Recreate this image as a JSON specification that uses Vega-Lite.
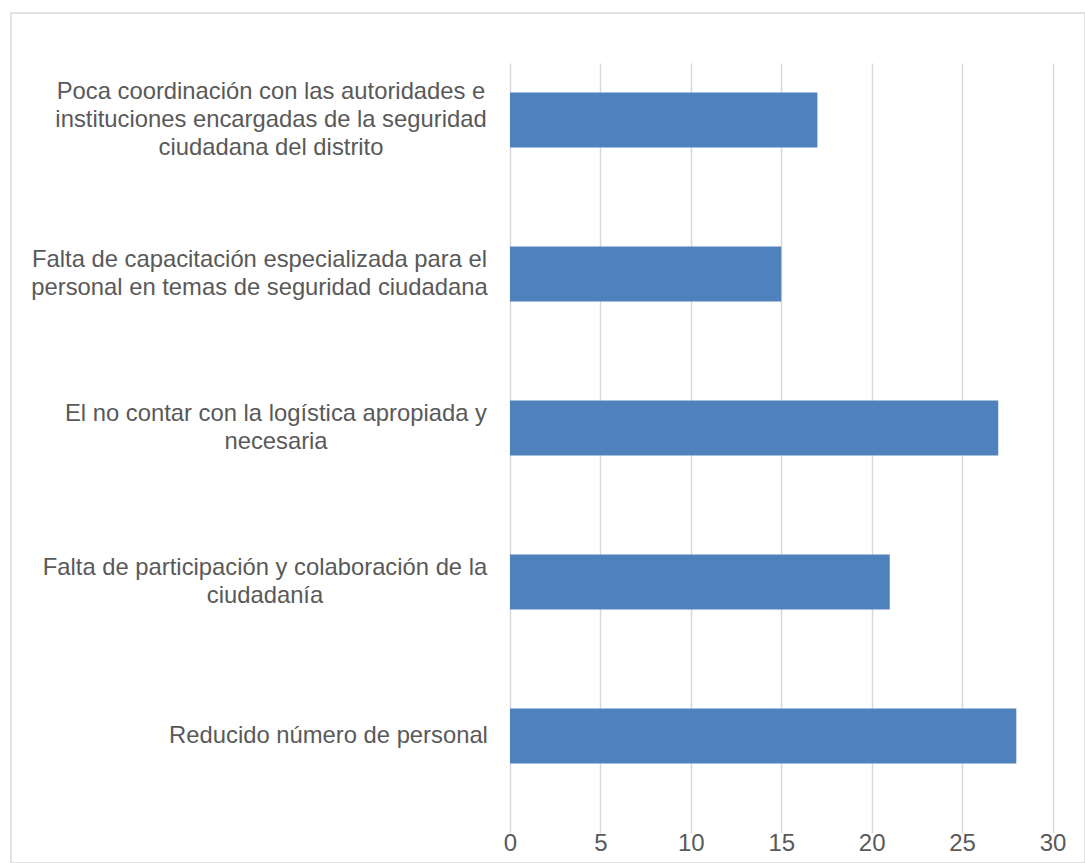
{
  "$schema": "https://vega.github.io/schema/vega-lite/v6.json",
  "width": 1074,
  "height": 850,
  "autosize": {"type": "none"},
  "padding": {"left": 11, "top": 13, "right": 0, "bottom": 0},
  "background": "white",
  "config": {
    "view": {"stroke": "#d9d9d9", "strokeWidth": 1.5},
    "font": "Liberation Sans",
    "axisY": {
      "title": null,
      "orient": "left",
      "offset": -499,
      "domain": false,
      "ticks": false,
      "grid": false,
      "labelAlign": "center",
      "labelBaseline": "middle",
      "labelLimit": 0,
      "labelFontSize": 23.8,
      "labelLineHeight": 27.7,
      "labelColor": "#595959",
      "labelFont": "Liberation Sans"
    }
  },
  "data": {
    "values": [
      {"causa": "Poca coordinación con las autoridades e\ninstituciones encargadas de la seguridad\nciudadana del distrito", "n": 17},
      {"causa": "Falta de capacitación especializada para el\npersonal en temas de seguridad ciudadana", "n": 15},
      {"causa": "El no contar con la logística apropiada y\nnecesaria", "n": 27},
      {"causa": "Falta de participación y colaboración de la\nciudadanía", "n": 21},
      {"causa": "Reducido número de personal", "n": 28}
    ]
  },
  "layer": [
    {
      "transform": [{"filter": "indexof(datum.causa, 'Poca') == 0"}],
      "mark": {"type": "bar", "color": "#4f81bd"},
      "encoding": {
        "y": {
          "field": "causa",
          "type": "nominal",
          "sort": null,
          "scale": {
            "domain": [
              "Poca coordinación con las autoridades e\ninstituciones encargadas de la seguridad\nciudadana del distrito",
              "Falta de capacitación especializada para el\npersonal en temas de seguridad ciudadana",
              "El no contar con la logística apropiada y\nnecesaria",
              "Falta de participación y colaboración de la\nciudadanía",
              "Reducido número de personal"
            ],
            "range": [30, 800],
            "paddingInner": 0.643,
            "paddingOuter": 0.322
          },
          "axis": {
            "orient": "left",
            "offset": -499,
            "labelPadding": 239.5,
            "labelOffset": -27.7,
            "labelExpr": "indexof(datum.value, 'Poca') == 0 ? split(datum.value, '\\n') : ''"
          }
        },
        "x": {
          "field": "n",
          "type": "quantitative",
          "scale": {"domain": [0, 30], "range": [499, 1041.5], "nice": false},
          "axis": {
            "title": null,
            "values": [0, 5, 10, 15, 20, 25, 30],
            "grid": true,
            "gridColor": "#d9d9d9",
            "gridWidth": 1.5,
            "domain": false,
            "ticks": false,
            "offset": -50,
            "labelPadding": 18,
            "labelFlush": false,
            "labelFontSize": 24,
            "labelColor": "#595959",
            "labelFont": "Liberation Sans"
          }
        }
      }
    },
    {
      "transform": [{"filter": "indexof(datum.causa, 'Falta de cap') == 0"}],
      "mark": {"type": "bar", "color": "#4f81bd"},
      "encoding": {
        "y": {
          "field": "causa",
          "type": "nominal",
          "sort": null,
          "axis": {
            "orient": "left",
            "offset": -499,
            "labelPadding": 251,
            "labelOffset": -13.85,
            "labelExpr": "indexof(datum.value, 'Falta de cap') == 0 ? split(datum.value, '\\n') : ''"
          }
        },
        "x": {"field": "n", "type": "quantitative", "axis": null}
      }
    },
    {
      "transform": [{"filter": "indexof(datum.causa, 'El no') == 0"}],
      "mark": {"type": "bar", "color": "#4f81bd"},
      "encoding": {
        "y": {
          "field": "causa",
          "type": "nominal",
          "sort": null,
          "axis": {
            "orient": "left",
            "offset": -499,
            "labelPadding": 234.5,
            "labelOffset": -13.85,
            "labelExpr": "indexof(datum.value, 'El no') == 0 ? split(datum.value, '\\n') : ''"
          }
        },
        "x": {"field": "n", "type": "quantitative", "axis": null}
      }
    },
    {
      "transform": [{"filter": "indexof(datum.causa, 'Falta de par') == 0"}],
      "mark": {"type": "bar", "color": "#4f81bd"},
      "encoding": {
        "y": {
          "field": "causa",
          "type": "nominal",
          "sort": null,
          "axis": {
            "orient": "left",
            "offset": -499,
            "labelPadding": 245.5,
            "labelOffset": -13.85,
            "labelExpr": "indexof(datum.value, 'Falta de par') == 0 ? split(datum.value, '\\n') : ''"
          }
        },
        "x": {"field": "n", "type": "quantitative", "axis": null}
      }
    },
    {
      "transform": [{"filter": "indexof(datum.causa, 'Reducido') == 0"}],
      "mark": {"type": "bar", "color": "#4f81bd"},
      "encoding": {
        "y": {
          "field": "causa",
          "type": "nominal",
          "sort": null,
          "axis": {
            "orient": "left",
            "offset": -499,
            "labelPadding": 182,
            "labelExpr": "indexof(datum.value, 'Reducido') == 0 ? split(datum.value, '\\n') : ''"
          }
        },
        "x": {"field": "n", "type": "quantitative", "axis": null}
      }
    }
  ],
  "resolve": {"axis": {"x": "independent", "y": "independent"}}
}
